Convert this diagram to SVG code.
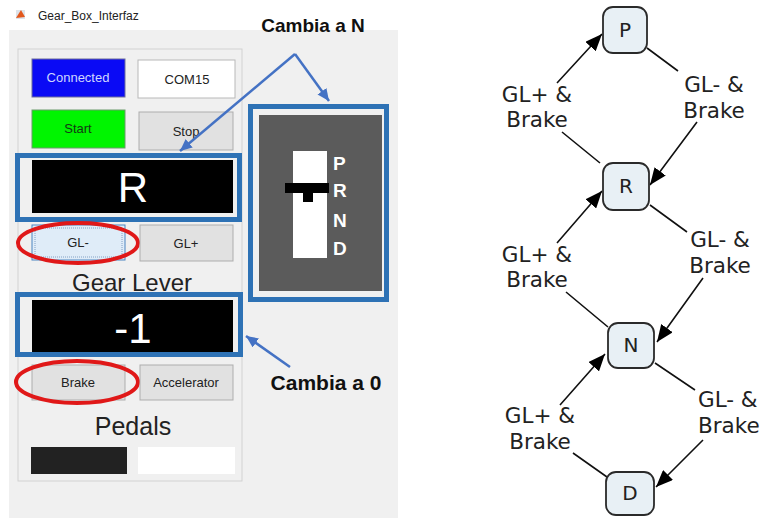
<svg xmlns="http://www.w3.org/2000/svg" width="760" height="518" viewBox="0 0 760 518">
<style>
.ui{font-family:"Liberation Sans",Arial,sans-serif;}
.btn{fill:#e1e1e1;stroke:#adadad;stroke-width:1;}
.btxt{font-family:"Liberation Sans",Arial,sans-serif;font-size:13px;text-anchor:middle;fill:#222;}
.frame{fill:none;stroke:#2e72b5;stroke-width:5;}
.disp{fill:#000;}
.big{font-family:"Liberation Sans",Arial,sans-serif;font-size:42px;fill:#fff;text-anchor:middle;}
.ell{fill:none;stroke:#e01818;stroke-width:4;}
.call{font-family:"Liberation Sans",Arial,sans-serif;font-weight:bold;fill:#111;}
.barrow{stroke:#4472c4;stroke-width:2.5;fill:none;}
.state rect{fill:#e8f0f5;stroke:#2a2a2a;stroke-width:1.8;}
.state text{font-family:"DejaVu Sans",Verdana,sans-serif;font-size:20px;fill:#222;text-anchor:middle;}
.edge{stroke:#111;stroke-width:1.6;fill:none;}
.lbl{font-family:"DejaVu Sans",Verdana,sans-serif;font-size:21.5px;fill:#222;}
.prnd{font-family:"Liberation Sans",Arial,sans-serif;font-weight:bold;font-size:19px;fill:#fff;}
</style>
<defs>
<marker id="ah" markerUnits="userSpaceOnUse" markerWidth="18" markerHeight="14" refX="17" refY="7" orient="auto">
<path d="M0,0 L17,7 L0,14 Z" fill="#000"/>
</marker>
<marker id="bh" markerUnits="userSpaceOnUse" markerWidth="13" markerHeight="11" refX="12" refY="5.5" orient="auto">
<path d="M0,0 L12,5.5 L0,11 Z" fill="#4472c4"/>
</marker>
</defs>
<rect width="760" height="518" fill="#fff"/>
<!-- window -->
<g id="window">
<rect x="9" y="30" width="389" height="488" fill="#f0f0f0"/>
<g id="icon">
<rect x="16" y="10" width="9" height="9" fill="#dde3ea"/>
<polygon points="16,18 21,10 25,17" fill="#e2581d"/>
</g>
<text class="ui" x="38" y="20" font-size="12" fill="#222">Gear_Box_Interfaz</text>
<rect x="18" y="49" width="224" height="432" fill="none" stroke="#d2d2d2" stroke-width="1"/>
</g>
<g id="btn-connected">
<rect x="32" y="59" width="93" height="38" fill="#0a0af5" stroke="#6c6c9a" stroke-width="1"/>
<text class="btxt" x="78" y="82" style="fill:#cfd6ff">Connected</text>
</g>
<g id="box-com">
<rect x="138" y="60" width="97" height="38" fill="#fff" stroke="#b8b8b8" stroke-width="1"/>
<text class="btxt" x="187" y="84">COM15</text>
</g>
<g id="btn-start">
<rect x="32" y="110" width="93" height="38" fill="#00f500" stroke="#6a9a6a" stroke-width="1"/>
<text class="btxt" x="78" y="133" style="fill:#143814">Start</text>
</g>
<g id="btn-stop">
<rect class="btn" x="139" y="112" width="94" height="38"/>
<text class="btxt" x="186" y="136">Stop</text>
</g>
<g id="display-gear">
<rect class="disp" x="32" y="160" width="201" height="53"/>
<text class="big" x="133" y="202">R</text>
<rect class="frame" x="17.5" y="155.5" width="222" height="64"/>
</g>
<g id="btn-glminus">
<rect x="32" y="225" width="93" height="35" fill="#dfecf8" stroke="#4a84c0" stroke-width="1"/>
<rect x="35" y="228" width="87" height="29" fill="none" stroke="#6a8fb8" stroke-width="0.8" stroke-dasharray="1,1"/>
<text class="btxt" x="78" y="247">GL-</text>
<ellipse class="ell" cx="78" cy="243" rx="60" ry="20"/>
</g>
<g id="btn-glplus">
<rect class="btn" x="140" y="225" width="93" height="36"/>
<text class="btxt" x="186" y="248">GL+</text>
</g>
<text class="ui" x="132" y="291" font-size="24" text-anchor="middle" fill="#222">Gear Lever</text>
<g id="display-num">
<rect class="disp" x="32" y="300" width="201" height="52"/>
<text class="big" x="133" y="343">-1</text>
<rect class="frame" x="17.5" y="294.5" width="223" height="60"/>
</g>
<g id="btn-brake">
<rect class="btn" x="32" y="365" width="93" height="35"/>
<text class="btxt" x="78" y="387">Brake</text>
<ellipse class="ell" cx="77" cy="382" rx="61" ry="21"/>
</g>
<g id="btn-accel">
<rect class="btn" x="140" y="365" width="93" height="35"/>
<text class="btxt" x="186" y="387">Accelerator</text>
</g>
<text class="ui" x="133" y="435" font-size="25" text-anchor="middle" fill="#222">Pedals</text>
<g id="pedals">
<rect x="31" y="447" width="96" height="27" fill="#222"/>
<rect x="138" y="447" width="97" height="27" fill="#fff"/>
</g>
<g id="prnd">
<rect x="259" y="115" width="123" height="176" fill="#5b5b5b"/>
<rect x="293" y="151" width="34" height="107" fill="#fff"/>
<rect x="285" y="183" width="44" height="10" fill="#000"/>
<rect x="303" y="192" width="10" height="10" fill="#000"/>
<text class="prnd" x="333" y="170">P</text>
<text class="prnd" x="333" y="197">R</text>
<text class="prnd" x="333" y="227">N</text>
<text class="prnd" x="333" y="255">D</text>
<rect class="frame" x="250.5" y="106.5" width="136" height="193"/>
</g>
<g id="callouts">
<text class="call" x="313" y="32" font-size="19" text-anchor="middle">Cambia a N</text>
<path class="barrow" d="M295,54 L180,151" marker-end="url(#bh)"/>
<path class="barrow" d="M295,54 L329,101" marker-end="url(#bh)"/>
<text class="call" x="326" y="390" font-size="21" text-anchor="middle">Cambia a 0</text>
<path class="barrow" d="M290,367 L246,336" marker-end="url(#bh)"/>
</g>
<!-- state diagram -->
<g id="connectors">
<path class="edge" d="M600,163 L562,132 M557,83 L602,34" marker-end="url(#ah)"/>
<path class="edge" d="M647,48 L678,71 M697,122 L650,185" marker-end="url(#ah)"/>
<path class="edge" d="M608,327 L566,292 M557,243 L602,191" marker-end="url(#ah)"/>
<path class="edge" d="M650,205 L687,232 M703,278 L657,342" marker-end="url(#ah)"/>
<path class="edge" d="M607,477 L573,453 M560,405 L605,354" marker-end="url(#ah)"/>
<path class="edge" d="M655,363 L695,390 M703,440 L656,487" marker-end="url(#ah)"/>
<text class="lbl" x="537" y="102" text-anchor="middle">GL+ &amp;</text>
<text class="lbl" x="537" y="127" text-anchor="middle">Brake</text>
<text class="lbl" x="714" y="92" text-anchor="middle">GL- &amp;</text>
<text class="lbl" x="714" y="118" text-anchor="middle">Brake</text>
<text class="lbl" x="537" y="262" text-anchor="middle">GL+ &amp;</text>
<text class="lbl" x="537" y="287" text-anchor="middle">Brake</text>
<text class="lbl" x="720" y="247" text-anchor="middle">GL- &amp;</text>
<text class="lbl" x="720" y="273" text-anchor="middle">Brake</text>
<text class="lbl" x="540" y="423" text-anchor="middle">GL+ &amp;</text>
<text class="lbl" x="540" y="449" text-anchor="middle">Brake</text>
<text class="lbl" x="698" y="407">GL- &amp;</text>
<text class="lbl" x="698" y="433">Brake</text>
</g>
<g id="node-P" class="state"><rect x="603" y="7" width="44" height="46" rx="10"/><text x="625" y="37">P</text></g>
<g id="node-R" class="state"><rect x="603" y="163" width="46" height="47" rx="10"/><text x="626" y="193">R</text></g>
<g id="node-N" class="state"><rect x="608" y="323" width="46" height="45" rx="10"/><text x="631" y="352">N</text></g>
<g id="node-D" class="state"><rect x="606" y="472" width="48" height="43" rx="10"/><text x="630" y="500">D</text></g>
</svg>
